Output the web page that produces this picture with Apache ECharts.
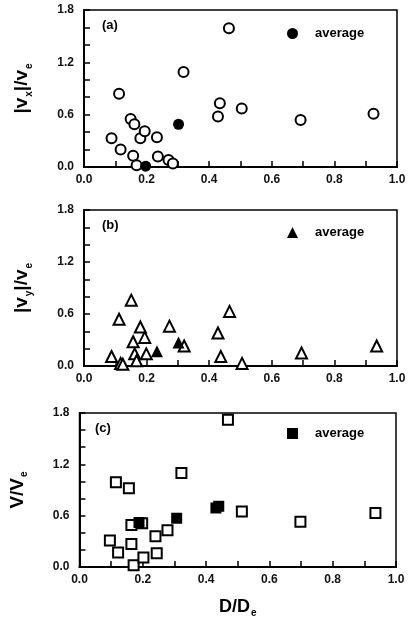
<!DOCTYPE html>
<html>
<head>
<meta charset="utf-8">
<script src="https://cdn.jsdelivr.net/npm/echarts@6/dist/echarts.min.js"></script>
<style>html,body{margin:0;padding:0;background:#fff}#c{width:416px;height:624px}</style>
</head>
<body>
<div id="c"></div>
<script>
// Panel (a): |vx|/ve vs D/De
var aOpen = [[0.088,0.33],[0.112,0.84],[0.117,0.20],[0.149,0.55],[0.161,0.49],[0.157,0.13],[0.168,0.02],[0.180,0.33],[0.194,0.41],[0.233,0.34],[0.236,0.12],[0.270,0.08],[0.284,0.04],[0.318,1.09],[0.428,0.58],[0.434,0.73],[0.463,1.59],[0.504,0.67],[0.692,0.54],[0.925,0.61]];
var aAvg = [[0.197,0.01],[0.302,0.49]];
// Panel (b): |vy|/ve vs D/De
var bOpen = [[0.088,0.11],[0.112,0.54],[0.117,0.03],[0.124,0.02],[0.151,0.76],[0.157,0.28],[0.162,0.14],[0.168,0.06],[0.180,0.45],[0.194,0.33],[0.199,0.14],[0.273,0.46],[0.320,0.23],[0.428,0.38],[0.437,0.11],[0.465,0.63],[0.505,0.03],[0.695,0.15],[0.935,0.23]];
var bAvg = [[0.233,0.17],[0.302,0.27]];
// Panel (c): v/ve vs D/De
var cOpen = [[0.096,0.31],[0.115,0.99],[0.122,0.17],[0.156,0.92],[0.164,0.27],[0.164,0.49],[0.171,0.02],[0.198,0.51],[0.202,0.11],[0.240,0.36],[0.244,0.16],[0.278,0.43],[0.322,1.10],[0.469,1.72],[0.513,0.65],[0.698,0.53],[0.935,0.63]];
var cAvg = [[0.188,0.52],[0.307,0.57],[0.431,0.69],[0.440,0.71]];
var panelTags = ['(a)','(b)','(c)'];
var legendText = 'average';
var xTitle = 'D/D';

var chart = echarts.init(document.getElementById('c'));
var FONT = 'Liberation Sans';
var grids = [
  {left:84, right:19, top:10, height:157},
  {left:84, right:19, top:210, height:156},
  {left:77, right:20, top:413, height:154}
];
grids.forEach(function(g){ g.show = true; g.borderColor = '#000'; g.borderWidth = 1.5; g.backgroundColor = '#fff'; });

function xAxis(i){
  var o = {
    gridIndex:i, type:'value', min:0, max:1, interval:0.1,
    axisLine:{show:true, lineStyle:{color:'#000', width:2}},
    axisTick:{show:true, inside:true, length:6, lineStyle:{color:'#000', width:1.5}},
    splitLine:{show:false},
    axisLabel:{color:'#111', fontFamily:FONT, fontWeight:'bold', fontSize:12, margin:7,
      formatter:function(v){ var k=Math.round(v*10); return k%2===0 ? (k/10).toFixed(1) : ''; }}
  };
  if (i===2){
    o.name = '{t|' + xTitle + '}{s|e}';
    o.nameLocation = 'middle';
    o.nameGap = 29;
    o.nameTextStyle = {rich:{
      t:{fontFamily:FONT, fontWeight:'bold', fontSize:18, color:'#000', lineHeight:22},
      s:{fontFamily:FONT, fontWeight:'bold', fontSize:10, color:'#000', lineHeight:22, verticalAlign:'bottom', padding:[8,0,0,1]}
    }};
  }
  return o;
}
var yNames = [
  '{t||}{t|v}{s|x}{t||}{t|/}{t|v}{s|e}',
  '{t||}{t|v}{s|y}{t||}{t|/}{t|v}{s|e}',
  '{t|V/V}{s|e}'
];
function yAxis(i){
  return {
    gridIndex:i, type:'value', min:0, max:1.8, interval:0.2,
    axisLine:{show:true, lineStyle:{color:'#000', width:2}},
    axisTick:{show:true, inside:true, length:6, lineStyle:{color:'#000', width:1.5}},
    splitLine:{show:false},
    axisLabel:{color:'#111', fontFamily:FONT, fontWeight:'bold', fontSize:12, margin:10,
      formatter:function(v){ var k=Math.round(v*10); return k%6===0 ? (k/10).toFixed(1) : ''; }},
    name: yNames[i], nameLocation:'middle', nameGap:50, nameRotate:90,
    nameTextStyle:{rich:{
      t:{fontFamily:FONT, fontWeight:'bold', fontSize:19, color:'#000', lineHeight:24},
      s:{fontFamily:FONT, fontWeight:'bold', fontSize:10, color:'#000', lineHeight:24, verticalAlign:'bottom', padding:[8,0,0,1]}
    }}
  };
}
var symbols = ['circle','triangle','rect'];
var opens = [aOpen, bOpen, cOpen];
var avgs = [aAvg, bAvg, cAvg];
var sizes = [11, 12, 11];
var series = [];
var legends = [];
var legendTops = [22, 221, 422];
for (var i=0;i<3;i++){
  series.push({
    type:'scatter', name:'open'+i, xAxisIndex:i, yAxisIndex:i, data:opens[i],
    symbol:symbols[i], symbolSize:sizes[i]-1, silent:true,
    itemStyle:{color:'#fff', borderColor:'#000', borderWidth:2, opacity:1}
  });
  series.push({
    type:'scatter', name:'avg'+i, xAxisIndex:i, yAxisIndex:i, data:avgs[i],
    symbol:symbols[i], symbolSize:sizes[i], silent:true,
    itemStyle:{color:'#000', borderColor:'#000', borderWidth:0, opacity:1}
  });
  legends.push({
    data:[{name:'avg'+i, icon:symbols[i]}], left:282, top:legendTops[i],
    itemWidth:11, itemHeight:11, selectedMode:false,
    formatter:function(){ return legendText; },
    textStyle:{fontFamily:FONT, fontWeight:'bold', fontSize:13, color:'#000', padding:[0,0,0,12]}
  });
}
var graphics = panelTags.map(function(t,i){
  return {type:'text', left:grids[i].left+18, top:grids[i].top+9,
    style:{text:t, fontFamily:FONT, fontWeight:'bold', fontSize:13, fill:'#000'}};
});
chart.setOption({
  animation:false,
  backgroundColor:'#fff',
  grid:grids,
  xAxis:[xAxis(0),xAxis(1),xAxis(2)],
  yAxis:[yAxis(0),yAxis(1),yAxis(2)],
  legend:legends,
  series:series,
  graphic:graphics
});
</script>
</body>
</html>
